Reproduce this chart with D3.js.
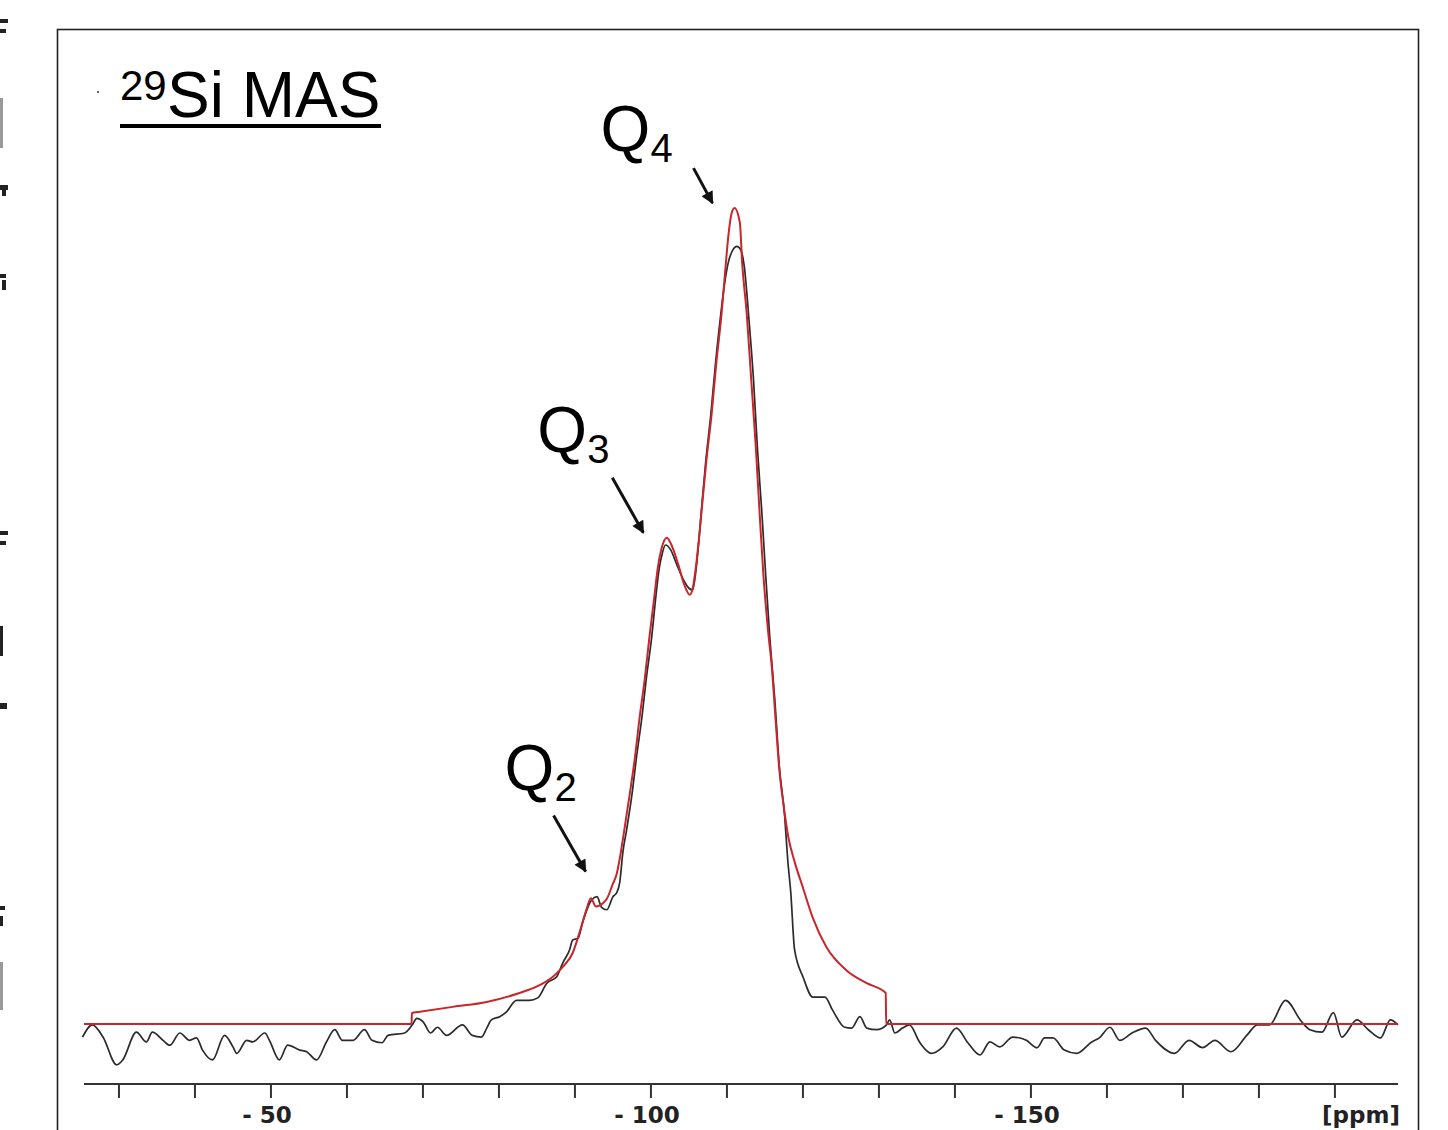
<!DOCTYPE html>
<html>
<head>
<meta charset="utf-8">
<script src="https://cdn.jsdelivr.net/npm/d3@7"></script>
<style>
  html, body { margin: 0; padding: 0; background: #fff; }
  svg { display: block; }
</style>
</head>
<body>
<svg id="chart" width="1448" height="1130"></svg>
<script>
// experimental spectrum (black), chemical shift in ppm and relative intensity
const blackPpm = [
  -25.2, -26.5, -27.9, -29.7, -30.5, -32.3, -33.6, -34.4, -35.8, -36.7, -38.0, -39.3, -40.2, -41.0,
  -42.3, -43.9, -45.0, -45.5, -46.8, -47.6, -49.2, -49.8, -51.1, -52.2, -53.8, -54.7, -56.0, -57.3,
  -58.4, -59.4, -60.8, -62.3, -63.3, -64.6, -65.4, -67.6, -68.6, -69.2, -70.0, -71.0, -71.9, -73.1,
  -75.2, -76.5, -77.7, -78.4, -79.0, -80.1, -81.0, -82.3, -84.0, -85.1, -86.3, -87.6, -88.4, -89.3,
  -89.7, -90.4, -91.0, -91.7, -92.2, -92.9, -93.5, -94.2, -95.0, -95.5, -95.9, -96.3, -96.8, -97.5,
  -98.1, -98.8, -99.4, -100.1, -100.6, -101.1, -101.5, -101.9, -102.6, -103.4, -104.3, -105.0, -105.5, -105.9,
  -106.2, -106.7, -107.2, -107.9, -108.5, -109.2, -109.7, -110.2, -110.8, -111.3, -111.8, -112.3, -112.9, -113.5,
  -114.0, -114.6, -115.1, -115.6, -116.3, -116.9, -117.6, -118.0, -118.4, -118.9, -120.0, -121.3,
  -122.9, -123.9, -125.5, -126.4, -127.5, -128.4, -129.7, -131.0, -131.4, -132.1, -133.1, -134.0,
  -135.4, -136.9, -138.4, -140.2, -141.7, -143.3, -144.6, -145.9, -147.6, -149.4, -150.8, -151.8,
  -152.9, -154.4, -156.0, -158.0, -159.0, -160.4, -161.7, -163.3, -165.1, -166.4, -168.9, -170.8,
  -172.6, -174.2, -176.3, -178.4, -179.8, -181.4, -183.5, -185.6, -186.7, -188.3, -189.8, -190.9,
  -192.9, -194.4, -196.0, -197.3, -198.3
];
const blackInt = [
  -1.6, -0.1, -1.6, -5.0, -4.4, -1.0, -2.2, -1.0, -2.0, -2.6, -1.1, -2.0, -1.7, -3.2,
  -4.4, -1.4, -2.8, -3.6, -2.0, -2.2, -1.1, -2.0, -4.4, -2.6, -3.2, -3.4, -4.4, -2.2,
  -0.7, -2.0, -2.0, -0.7, -2.0, -2.3, -1.4, -1.1, -0.1, 0.7, 0.3, -1.1, -0.4, -1.4,
  -0.1, -1.4, -1.6, -0.5, 0.5, 0.9, 1.5, 2.9, 2.9, 3.2, 5.0, 5.8, 7.5, 9.1,
  10.3, 10.5, 12.4, 14.3, 15.2, 15.6, 14.3, 14.0, 15.6, 16.1, 17.4, 21.0, 23.8, 28.1,
  32.7, 37.5, 42.4, 47.4, 52.0, 55.9, 57.7, 58.7, 58.1, 56.3, 54.4, 53.4, 53.2, 55.4,
  58.1, 63.6, 68.8, 74.9, 81.0, 87.1, 90.8, 93.4, 94.9, 95.3, 94.9, 92.7, 86.3, 78.9,
  70.7, 62.6, 55.0, 47.9, 39.7, 31.5, 25.4, 20.1, 16.1, 9.1, 5.8, 3.3,
  3.3, 1.7, -0.4, -0.5, 0.9, -0.5, -0.7, -0.1, 0.5, -1.1, -0.5, -0.1,
  -2.3, -3.6, -2.8, -0.5, -2.3, -3.8, -2.2, -2.8, -1.6, -2.0, -2.9, -1.7,
  -1.7, -3.2, -3.6, -2.2, -1.7, -0.4, -2.0, -1.1, -0.5, -2.0, -3.6, -2.0,
  -2.9, -2.0, -3.4, -1.4, -0.1, -0.1, 2.9, 0.3, -0.7, -1.0, 1.4, -1.6,
  0.5, -0.7, -1.7, 0.5, -0.1
];

// deconvolution fit (red)
const fitPpm = [
  -25.4, -68.5, -68.55, -69.6, -73.9, -78.4, -82.7, -85.0, -87.1, -88.4, -89.7, -90.6, -91.5, -92.1,
  -92.75, -94.1, -95.0, -95.5, -95.9, -96.5, -97.2, -97.9, -98.5, -99.2, -99.8, -100.4, -100.9, -101.4,
  -102.1, -102.7, -103.6, -104.4, -105.1, -105.5, -105.9, -106.3, -106.8, -107.3, -108.0, -108.6,
  -109.3, -109.8, -110.2, -110.6, -111.0, -111.7, -112.0, -112.6, -113.2, -113.8, -114.3, -114.8,
  -115.4, -115.9, -116.4, -116.9, -117.5, -118.1, -118.9, -120.0, -121.3, -123.1, -125.7, -128.4,
  -130.9, -130.95, -198.3
];
const fitInt = [
  0, 0, 1.35, 1.5, 2.1, 2.7, 3.8, 4.6, 5.8, 7.0, 8.7, 11.2, 14.0, 15.4,
  14.4, 15.2, 17.2, 18.4, 20.3, 23.8, 28.1, 32.7, 37.5, 42.4, 47.4, 52.0, 55.9, 58.3,
  59.6, 58.7, 56.3, 53.8, 52.6, 53.4, 55.9, 59.3, 64.2, 69.1, 74.9, 81.0,
  87.1, 92.6, 96.7, 99.3, 100.0, 98.2, 93.3, 87.1, 78.9, 70.7, 62.6, 55.0,
  48.3, 43.8, 37.3, 31.1, 26.5, 22.8, 19.9, 16.7, 13.0, 9.4, 6.6, 5.0,
  3.8, 0, 0
];

const xTicks = d3.range(-30, -191, -10);
const xLabels = [-50, -100, -150];

// peak annotations: where each arrow points
const peakNames = ['Q', 'Q', 'Q'];
const peakSubs = ['4', '3', '2'];
const peakPpm = [-108.1, -99.0, -91.4];
const peakInt = [100.6, 60.2, 18.7];

const svg = d3.select('#chart');

const x = d3.scaleLinear().domain([-25.4, -198.3]).range([84, 1398]);
const y = d3.scaleLinear().domain([0, 100]).range([1024, 208]);

// frame
svg.append('rect')
  .attr('x', 57.5).attr('y', 29.5)
  .attr('width', 1361).attr('height', 1200)
  .attr('fill', 'none')
  .attr('stroke', '#222')
  .attr('stroke-width', 1.6);

// clipped bits of neighbouring column at left edge
const edgeBits = [
  [0, 19, 8, 4], [0, 29, 6, 4], [0, 98, 3, 50], [0, 185, 8, 5], [2, 190, 4, 6],
  [0, 274, 6, 4], [2, 280, 4, 10], [0, 531, 8, 4], [0, 541, 6, 4], [0, 626, 3, 30],
  [0, 703, 7, 6], [0, 906, 5, 4], [0, 916, 3, 10], [0, 962, 3, 48]
];
svg.append('g')
  .selectAll('rect')
  .data(edgeBits)
  .join('rect')
  .attr('x', d => d[0]).attr('y', d => d[1])
  .attr('width', d => d[2]).attr('height', d => d[3])
  .attr('fill', (d, i) => (i === 2 || i === 13) ? '#999' : '#222');

// x axis
const axisG = svg.append('g').attr('transform', 'translate(0,1084)');
axisG.append('line')
  .attr('x1', x.range()[0]).attr('x2', x.range()[1])
  .attr('stroke', '#333').attr('stroke-width', 2);
axisG.selectAll('line.tick')
  .data(xTicks)
  .join('line')
  .attr('class', 'tick')
  .attr('x1', d => x(d)).attr('x2', d => x(d))
  .attr('y1', 0).attr('y2', 14)
  .attr('stroke', '#333').attr('stroke-width', 2);
axisG.selectAll('text.lab')
  .data(xLabels)
  .join('text')
  .attr('class', 'lab')
  .attr('x', d => x(d) - 4)
  .attr('y', 39)
  .attr('text-anchor', 'middle')
  .style('font-family', 'DejaVu Sans, sans-serif')
  .style('font-size', '23px')
  .style('font-weight', 'bold')
  .style('fill', '#222')
  .text(d => '- ' + Math.abs(d));
axisG.append('text')
  .attr('x', 1400).attr('y', 39)
  .attr('text-anchor', 'end')
  .style('font-family', 'DejaVu Sans, sans-serif')
  .style('font-size', '23px')
  .style('font-weight', 'bold')
  .style('fill', '#222')
  .text('[ppm]');

// spectra
const blackData = blackPpm.map((p, i) => [p, blackInt[i]]);
const fitData = fitPpm.map((p, i) => [p, fitInt[i]]);

const line = d3.line()
  .x(d => x(d[0]))
  .y(d => y(d[1]))
  .curve(d3.curveMonotoneX);

svg.append('path')
  .datum(blackData)
  .attr('d', line)
  .attr('fill', 'none')
  .attr('stroke', '#2b2b2b')
  .attr('stroke-width', 1.7)
  .attr('stroke-linejoin', 'round');

svg.append('path')
  .datum(fitData)
  .attr('d', line)
  .attr('fill', 'none')
  .attr('stroke', '#c9252c')
  .attr('stroke-width', 2)
  .attr('stroke-linejoin', 'round');

// title
svg.append('rect').attr('x', 97).attr('y', 91).attr('width', 2).attr('height', 2).attr('fill', '#666');
svg.append('text')
  .attr('x', 120).attr('y', 100)
  .style('font-family', 'Liberation Sans, Arial, sans-serif')
  .style('font-size', '42px')
  .text('29');
svg.append('text')
  .attr('x', 167).attr('y', 117)
  .style('font-family', 'Liberation Sans, Arial, sans-serif')
  .style('font-size', '64px')
  .text('Si MAS');
svg.append('rect')
  .attr('x', 120).attr('y', 124)
  .attr('width', 261).attr('height', 4)
  .attr('fill', '#000');

// arrows + peak labels
svg.append('defs').append('marker')
  .attr('id', 'head')
  .attr('viewBox', '0 0 10 10')
  .attr('refX', 9).attr('refY', 5)
  .attr('markerWidth', 5).attr('markerHeight', 4.2)
  .attr('markerUnits', 'strokeWidth')
  .attr('orient', 'auto')
  .append('path')
  .attr('d', 'M0,0 L10,5 L0,10 Z')
  .attr('fill', '#111');

const tailOffsets = [[-19, -35], [-31, -55], [-32, -56]];
const labelOffsets = [[-112, -52], [-106, -81], [-81, -81]];

const ann = svg.append('g')
  .selectAll('g')
  .data(peakPpm.map((p, i) => ({ p, v: peakInt[i], i })))
  .join('g');

ann.append('line')
  .attr('x1', d => x(d.p) + tailOffsets[d.i][0])
  .attr('y1', d => y(d.v) + tailOffsets[d.i][1])
  .attr('x2', d => x(d.p))
  .attr('y2', d => y(d.v))
  .attr('stroke', '#111')
  .attr('stroke-width', 3)
  .attr('marker-end', 'url(#head)');

ann.append('text')
  .attr('x', d => x(d.p) + labelOffsets[d.i][0])
  .attr('y', d => y(d.v) + labelOffsets[d.i][1])
  .style('font-family', 'Liberation Sans, Arial, sans-serif')
  .style('font-size', '64px')
  .text(d => peakNames[d.i]);

ann.append('text')
  .attr('x', d => x(d.p) + labelOffsets[d.i][0] + 50)
  .attr('y', d => y(d.v) + labelOffsets[d.i][1] + 11)
  .style('font-family', 'Liberation Sans, Arial, sans-serif')
  .style('font-size', '40px')
  .text(d => peakSubs[d.i]);
</script>
</body>
</html>
